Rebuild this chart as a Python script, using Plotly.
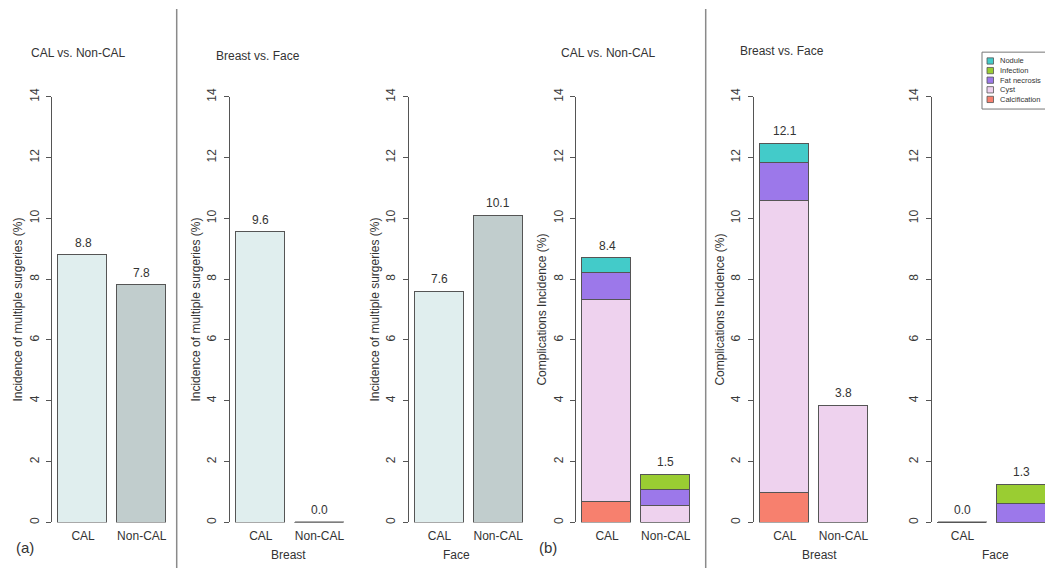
import plotly.graph_objects as go

W, H = 1045, 570

# ---------------- data ----------------
categories = ["CAL", "Non-CAL"]

# (a) Incidence of multiple surgeries (%)
surg_overall = [8.8, 7.8]
surg_overall_labels = ["8.8", "7.8"]
surg_breast = [9.55, 0.0]
surg_breast_labels = ["9.6", "0.0"]
surg_face = [7.6, 10.1]
surg_face_labels = ["7.6", "10.1"]

# (b) Complications incidence (%), stacked bottom -> top
complication_types = ["Calcification", "Cyst", "Fat necrosis", "Infection", "Nodule"]

overall_calcification = [0.67, 0.0]
overall_cyst = [6.66, 0.54]
overall_fat_necrosis = [0.87, 0.52]
overall_infection = [0.0, 0.52]
overall_nodule = [0.5, 0.0]
overall_labels = ["8.4", "1.5"]

breast_calcification = [0.97, 0.0]
breast_cyst = [9.6, 3.85]
breast_fat_necrosis = [1.25, 0.0]
breast_infection = [0.0, 0.0]
breast_nodule = [0.65, 0.0]
breast_labels = ["12.1", "3.8"]

face_calcification = [0.0, 0.0]
face_cyst = [0.0, 0.0]
face_fat_necrosis = [0.0, 0.62]
face_infection = [0.0, 0.63]
face_nodule = [0.0, 0.0]
face_labels = ["0.0", "1.3"]

# ---------------- styles ----------------
FONT = "Liberation Sans, Arial, sans-serif"
TXT = "#333333"
EDGE = "#555555"
surg_colors = ["#E0EEEE", "#C1CDCD"]
type_colors = {
    "Calcification": "#F7806E",
    "Cyst": "#EED2EE",
    "Fat necrosis": "#9C78EA",
    "Infection": "#9ACD32",
    "Nodule": "#43CBC9",
}

bar_pos = [0.7, 1.9]     # barplot-style centres, width 1
bar_w = 1.0
axis_px = [52.3, 230.0, 408.7, 576.3, 754.0, 931.7]
px_per_unit = 48.9
x_lo, x_hi = 0.07, 2.53
y_bot = (H - 523.5) / H
y_top = (H - 89.5) / H

fig = go.Figure()
annotations = []
shapes = []


def add_zero_lines(idx, totals):
    for p, v in zip(bar_pos, totals):
        if v == 0:
            fig.add_trace(go.Scatter(
                x=[p - bar_w / 2, p + bar_w / 2], y=[v, v], mode="lines",
                line=dict(color=EDGE, width=2), cliponaxis=False,
                xaxis=f"x{idx}", yaxis=f"y{idx}", showlegend=False, hoverinfo="skip"))


def add_value_labels(idx, totals, labels):
    for p, v, t in zip(bar_pos, totals, labels):
        annotations.append(dict(
            x=p, y=v, xref=f"x{idx}", yref=f"y{idx}", text=t, showarrow=False,
            xanchor="center", yanchor="bottom", yshift=3,
            font=dict(family=FONT, size=12, color=TXT)))


# panels 1-3: simple bars
for idx, (vals, labs) in enumerate(
        [(surg_overall, surg_overall_labels),
         (surg_breast, surg_breast_labels),
         (surg_face, surg_face_labels)], start=1):
    fig.add_trace(go.Bar(
        x=bar_pos, y=vals, width=bar_w,
        marker=dict(color=surg_colors, line=dict(color=EDGE, width=1.2)),
        xaxis=f"x{idx}", yaxis=f"y{idx}", showlegend=False))
    add_zero_lines(idx, vals)
    add_value_labels(idx, vals, labs)

# panels 4-6: stacked bars
stack_sets = [
    (4, [overall_calcification, overall_cyst, overall_fat_necrosis, overall_infection, overall_nodule], overall_labels),
    (5, [breast_calcification, breast_cyst, breast_fat_necrosis, breast_infection, breast_nodule], breast_labels),
    (6, [face_calcification, face_cyst, face_fat_necrosis, face_infection, face_nodule], face_labels),
]
for idx, series, labs in stack_sets:
    for name, vals in zip(complication_types, series):
        fig.add_trace(go.Bar(
            x=bar_pos, y=vals, width=bar_w, name=name,
            marker=dict(color=type_colors[name], line=dict(color=EDGE, width=1.2)),
            xaxis=f"x{idx}", yaxis=f"y{idx}", showlegend=False))
    totals = [sum(s[i] for s in series) for i in range(len(bar_pos))]
    add_zero_lines(idx, totals)
    add_value_labels(idx, totals, labs)

# axes
layout_axes = {}
for i, ax in enumerate(axis_px, start=1):
    right = ax + (x_hi - x_lo) * px_per_unit
    hi = x_hi
    if right > W:
        right = W
        hi = x_lo + (W - ax) / px_per_unit
    key = "" if i == 1 else str(i)
    layout_axes[f"xaxis{key}"] = dict(
        domain=[ax / W, right / W], range=[x_lo, hi], anchor=f"y{i}",
        tickvals=bar_pos, ticktext=categories, ticks="", showline=False,
        ticklabelstandoff=5,
        showgrid=False, zeroline=False, fixedrange=True,
        tickfont=dict(family=FONT, size=12, color=TXT))
    layout_axes[f"yaxis{key}"] = dict(
        domain=[y_bot, y_top], range=[0, 14], anchor=f"x{i}",
        tickvals=[0, 2, 4, 6, 8, 10, 12, 14], tickangle=-90,
        ticks="outside", ticklen=5, tickcolor=EDGE, ticklabelstandoff=3,
        showline=True, linecolor=EDGE, linewidth=1,
        showgrid=False, zeroline=False, fixedrange=True,
        tickfont=dict(family=FONT, size=12, color="#3a3a3a"))

# y-axis titles
for x_px, t in [(18, "Incidence of multiple surgeries (%)"),
                (196, "Incidence of multiple surgeries (%)"),
                (375, "Incidence of multiple surgeries (%)"),
                (542, "Complications Incidence (%)"),
                (720, "Complications Incidence (%)")]:
    annotations.append(dict(x=x_px / W, y=(y_bot + y_top) / 2, xref="paper", yref="paper",
                            text=t, textangle=-90, showarrow=False,
                            xanchor="center", yanchor="middle",
                            font=dict(family=FONT, size=12, color=TXT)))

# panel titles
for x_px, y_px, t in [(78, 45, "CAL vs. Non-CAL"), (258, 48, "Breast vs. Face"),
                      (608, 45, "CAL vs. Non-CAL"), (782, 43, "Breast vs. Face")]:
    annotations.append(dict(x=x_px / W, y=1 - y_px / H, xref="paper", yref="paper",
                            text=t, showarrow=False, xanchor="center", yanchor="middle",
                            font=dict(family=FONT, size=12, color=TXT)))

# x-axis group titles
for x_px, t in [(288, "Breast"), (456, "Face"), (819, "Breast"), (995, "Face")]:
    annotations.append(dict(x=x_px / W, y=1 - 557 / H, xref="paper", yref="paper",
                            text=t, showarrow=False, xanchor="center", yanchor="middle",
                            font=dict(family=FONT, size=12, color=TXT)))

# panel letters
for x_px, t in [(25, "(a)"), (548, "(b)")]:
    annotations.append(dict(x=x_px / W, y=1 - 549 / H, xref="paper", yref="paper",
                            text=t, showarrow=False, xanchor="center", yanchor="middle",
                            font=dict(family=FONT, size=15, color=TXT)))

# separators
for x_px in [176.7, 705.7]:
    shapes.append(dict(type="line", xref="paper", yref="paper",
                       x0=x_px / W, x1=x_px / W, y0=0, y1=1,
                       line=dict(color="#8a8a8a", width=1.5)))

# manual compact legend (R style)
shapes.append(dict(type="rect", xref="paper", yref="paper",
                   x0=982 / W, x1=1060 / W, y0=1 - 102 / H, y1=1 - 44 / H,
                   line=dict(color="#777777", width=1), fillcolor="white"))
leg_order = list(reversed(complication_types))
for k, name in enumerate(leg_order):
    yc = 53 + k * 9.8
    shapes.append(dict(type="rect", xref="paper", yref="paper",
                       x0=987 / W, x1=993.5 / W, y0=1 - (yc + 3.2) / H, y1=1 - (yc - 3.2) / H,
                       line=dict(color="#555555", width=0.8), fillcolor=type_colors[name]))
    annotations.append(dict(x=998.5 / W, y=1 - yc / H, xref="paper", yref="paper",
                            text=name, showarrow=False, xanchor="left", yanchor="middle",
                            borderpad=0,
                            font=dict(family=FONT, size=7.5, color=TXT)))

fig.update_layout(
    width=W, height=H, margin=dict(l=0, r=0, t=0, b=0),
    paper_bgcolor="white", plot_bgcolor="white",
    barmode="stack", bargap=0, showlegend=False,
    annotations=annotations, shapes=shapes,
    **layout_axes)

fig.write_html("out.html", config={"displayModeBar": False},
               post_script="document.body.style.margin='0px';")
